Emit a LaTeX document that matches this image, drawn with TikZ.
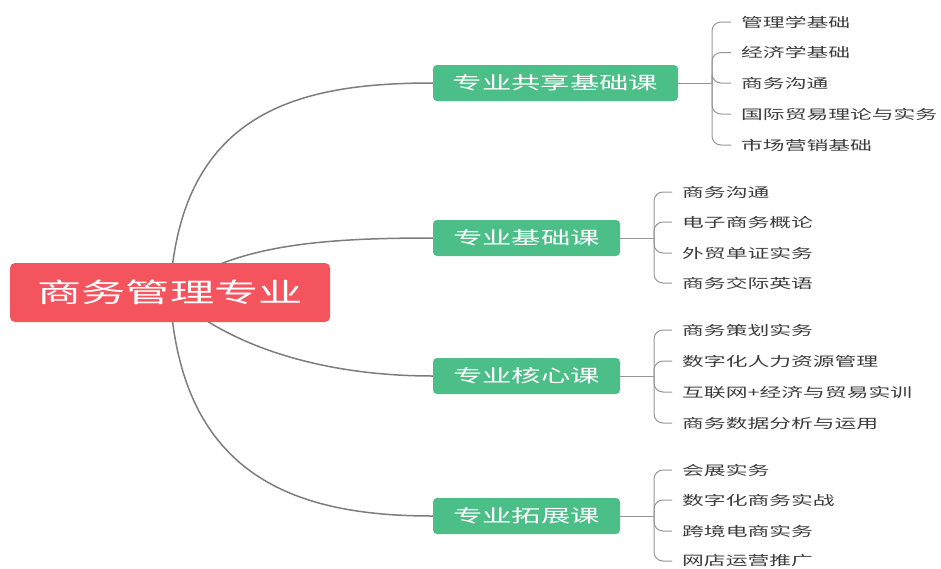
\documentclass[tikz,border=0pt]{standalone}
\usepackage{fontspec}
\setmainfont{Noto Sans CJK SC}
\usepackage{graphicx}
\usetikzlibrary{backgrounds}
\definecolor{rootred}{RGB}{244,84,94}
\definecolor{nodegreen}{RGB}{76,190,135}
\definecolor{linegray}{RGB}{125,125,125}
\definecolor{bracegray}{RGB}{150,150,150}
\definecolor{leaftext}{RGB}{60,60,60}
\newcommand{\wide}[1]{\scalebox{1.65}[1]{#1}}
\begin{document}
\begin{tikzpicture}[x=1pt,y=-1pt,
 rootbox/.style={fill=rootred, rounded corners=5pt, minimum width=320pt, minimum height=59pt, text=white, font=\fontsize{26.8}{30}\selectfont, inner sep=0pt},
 catbox/.style={fill=nodegreen, rounded corners=4pt, minimum height=36pt, text=white, font=\fontsize{17.8}{20}\selectfont, inner sep=0pt},
 leaf/.style={anchor=west, inner sep=0pt, text=leaftext, font=\fontsize{13.2}{15}\selectfont},
 mainlink/.style={draw=linegray, line width=1.5pt},
 branch/.style={draw=bracegray, line width=1pt, rounded corners=9pt}]
\useasboundingbox (0,0) rectangle (941,568);

\node[rootbox] (root) at (170,292.5) {\wide{商务管理专业}};
\node[catbox, minimum width=245pt] (g1) at (555.5,83) {\wide{专业共享基础课}};
\node[catbox, minimum width=187pt] (g2) at (526.5,238) {\wide{专业基础课}};
\node[catbox, minimum width=187pt] (g3) at (526.5,376) {\wide{专业核心课}};
\node[catbox, minimum width=187pt] (g4) at (526.5,516) {\wide{专业拓展课}};

\coordinate (j1) at (712,83);
\coordinate (j2) at (654,238);
\coordinate (j3) at (654,376);
\coordinate (j4) at (654,516);

% leaves group 1
\node[leaf] (a1) at (741,22) {\wide{管理学基础}};
\node[leaf] (a2) at (741,52.5) {\wide{经济学基础}};
\node[leaf] (a3) at (741,83) {\wide{商务沟通}};
\node[leaf] (a4) at (741,114) {\wide{国际贸易理论与实务}};
\node[leaf] (a5) at (741,145) {\wide{市场营销基础}};
% group 2
\node[leaf] (b1) at (682,192) {\wide{商务沟通}};
\node[leaf] (b2) at (682,222) {\wide{电子商务概论}};
\node[leaf] (b3) at (682,253) {\wide{外贸单证实务}};
\node[leaf] (b4) at (682,283) {\wide{商务交际英语}};
% group 3
\node[leaf] (c1) at (682,330) {\wide{商务策划实务}};
\node[leaf] (c2) at (682,361) {\wide{数字化人力资源管理}};
\node[leaf] (c3) at (682,392) {\wide{互联网+经济与贸易实训}};
\node[leaf] (c4) at (682,423) {\wide{商务数据分析与运用}};
% group 4
\node[leaf] (d1) at (682,470) {\wide{会展实务}};
\node[leaf] (d2) at (682,500) {\wide{数字化商务实战}};
\node[leaf] (d3) at (682,531) {\wide{跨境电商实务}};
\node[leaf] (d4) at (682,561) {\wide{网店运营推广}};

\begin{scope}[on background layer]
\draw[mainlink] (root.center) .. controls (180,110) and (300,83) .. (g1.west);
\draw[mainlink] (root.center) .. controls (230,245) and (320,238) .. (g2.west);
\draw[mainlink] (root.center) .. controls (225,345) and (320,376) .. (g3.west);
\draw[mainlink] (root.center) .. controls (180,480) and (300,516) .. (g4.west);
\end{scope}

\draw[branch] (g1.east) -- (j1);
\draw[branch] (g2.east) -- (j2);
\draw[branch] (g3.east) -- (j3);
\draw[branch] (g4.east) -- (j4);

\foreach \l in {a1,a2,a3,a4,a5}{\draw[branch] (j1) |- ([xshift=-10pt]\l.west);}
\foreach \l in {b1,b2,b3,b4}{\draw[branch] (j2) |- ([xshift=-10pt]\l.west);}
\foreach \l in {c1,c2,c3,c4}{\draw[branch] (j3) |- ([xshift=-10pt]\l.west);}
\foreach \l in {d1,d2,d3,d4}{\draw[branch] (j4) |- ([xshift=-10pt]\l.west);}
\end{tikzpicture}
\end{document}
